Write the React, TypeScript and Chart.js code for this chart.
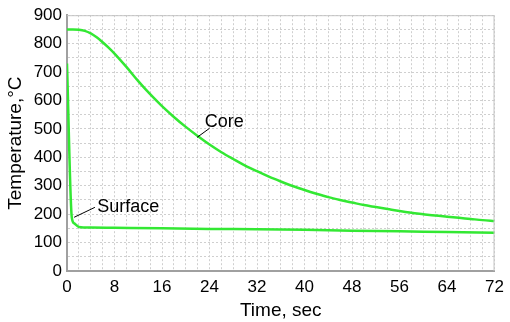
import React, { useEffect, useRef } from "react";
import { Chart, registerables } from "chart.js";

Chart.register(...registerables);

const coreTime = [0, 1, 2, 3, 4, 5, 6, 7, 8, 10, 12, 14, 16, 18, 20, 22, 24, 26, 28, 30, 32, 34, 36, 38, 40, 42, 44, 46, 48, 50, 52, 54, 56, 58, 60, 62, 64, 66, 68, 70, 72];
const coreTemp = [850, 850, 849, 845, 836, 822, 805, 786, 765, 718, 668, 622, 580, 542, 507, 475, 445, 418, 394, 371, 351, 332, 315, 299, 285, 272, 260, 250, 241, 232, 225, 218, 211, 205, 200, 195, 191, 187, 183, 179, 176];
const surfaceTime = [0, 0.8, 1.2, 2, 4, 8, 16, 24, 32, 40, 48, 56, 64, 72];
const surfaceTemp = [730, 190, 168, 155, 153, 152, 150, 148, 147, 145, 142, 140, 137, 135];

const xTickStep = 2;
const xLabelStep = 8;
const yTickStep = 50;
const yLabelStep = 100;

const labels = [
  { text: "Core", at: [23.2, 508], from: [21.9, 470], to: [24.0, 502] },
  { text: "Surface", at: [5.1, 206], from: [1.2, 189], to: [4.7, 224] },
];

const FONT = "'Liberation Sans', Arial, sans-serif";

export default function App() {
  const ref = useRef<HTMLCanvasElement>(null);
  useEffect(() => {
    document.body.style.margin = "0";
    const canvas = ref.current!;
    const annot = {
      id: "annot",
      afterDatasetsDraw(chart: any) {
        const { ctx, scales, chartArea } = chart;
        const x = scales.x, y = scales.y;
        ctx.save();
        ctx.strokeStyle = "#c4c4c4";
        ctx.lineWidth = 1;
        ctx.beginPath();
        ctx.moveTo(chartArea.left, chartArea.top + 0.5);
        ctx.lineTo(chartArea.right - 0.5, chartArea.top + 0.5);
        ctx.lineTo(chartArea.right - 0.5, chartArea.bottom);
        ctx.stroke();
        ctx.strokeStyle = "#000";
        ctx.lineWidth = 1;
        ctx.fillStyle = "#000";
        ctx.font = `18px ${FONT}`;
        ctx.textBaseline = "alphabetic";
        ctx.textAlign = "left";
        for (const l of labels) {
          ctx.beginPath();
          ctx.moveTo(x.getPixelForValue(l.from[0]), y.getPixelForValue(l.from[1]));
          ctx.lineTo(x.getPixelForValue(l.to[0]), y.getPixelForValue(l.to[1]));
          ctx.stroke();
          ctx.fillText(l.text, x.getPixelForValue(l.at[0]), y.getPixelForValue(l.at[1]));
        }
        ctx.restore();
      },
    };
    const chart = new Chart(canvas, {
      type: "line",
      data: {
        datasets: [
          {
            label: "Core",
            data: coreTime.map((t, i) => ({ x: t, y: coreTemp[i] })),
            borderColor: "#33e833",
            borderWidth: 2.5,
            pointRadius: 0,
            cubicInterpolationMode: "monotone",
            fill: false,
          },
          {
            label: "Surface",
            data: surfaceTime.map((t, i) => ({ x: t, y: surfaceTemp[i] })),
            borderColor: "#33e833",
            borderWidth: 2.5,
            pointRadius: 0,
            cubicInterpolationMode: "monotone",
            fill: false,
          },
        ],
      },
      options: {
        animation: false,
        responsive: false,
        devicePixelRatio: 1,
        layout: { padding: { top: 13, right: 11, left: 0, bottom: 0 } },
        plugins: { legend: { display: false }, tooltip: { enabled: false } },
        scales: {
          x: {
            type: "linear",
            min: 0,
            max: 72,
            afterFit: (s: any) => { s.height = 51; },
            ticks: {
              stepSize: xTickStep,
              autoSkip: false,
              maxRotation: 0,
              padding: 6,
              color: "#000",
              font: { family: FONT, size: 17 },
              callback: (v: any) => (Number(v) % xLabelStep === 0 ? String(v) : ""),
            },
            grid: { color: "#cfcfcf", lineWidth: 1, drawTicks: false },
            border: { color: "#a0a0a0", width: 2, dash: [2, 2] },
            title: { display: true, text: "Time, sec", color: "#000", font: { family: FONT, size: 19 }, padding: { top: 0, bottom: 0 } },
          },
          y: {
            min: 0,
            max: 900,
            afterFit: (s: any) => { s.width = 67; },
            ticks: {
              stepSize: yTickStep,
              autoSkip: false,
              padding: 5,
              color: "#000",
              font: { family: FONT, size: 17 },
              callback: (v: any) => (Number(v) % yLabelStep === 0 ? String(v) : ""),
            },
            grid: { color: "#cfcfcf", lineWidth: 1, drawTicks: false },
            border: { color: "#a0a0a0", width: 2, dash: [2, 2] },
            title: { display: true, text: "Temperature,°C", color: "#000", font: { family: FONT, size: 19 }, padding: { top: 4, bottom: 0 } },
          },
        },
      },
      plugins: [annot],
    });
    return () => chart.destroy();
  }, []);
  return <canvas ref={ref} width={510} height={322} style={{ display: "block", width: 510, height: 322 }} />;
}
